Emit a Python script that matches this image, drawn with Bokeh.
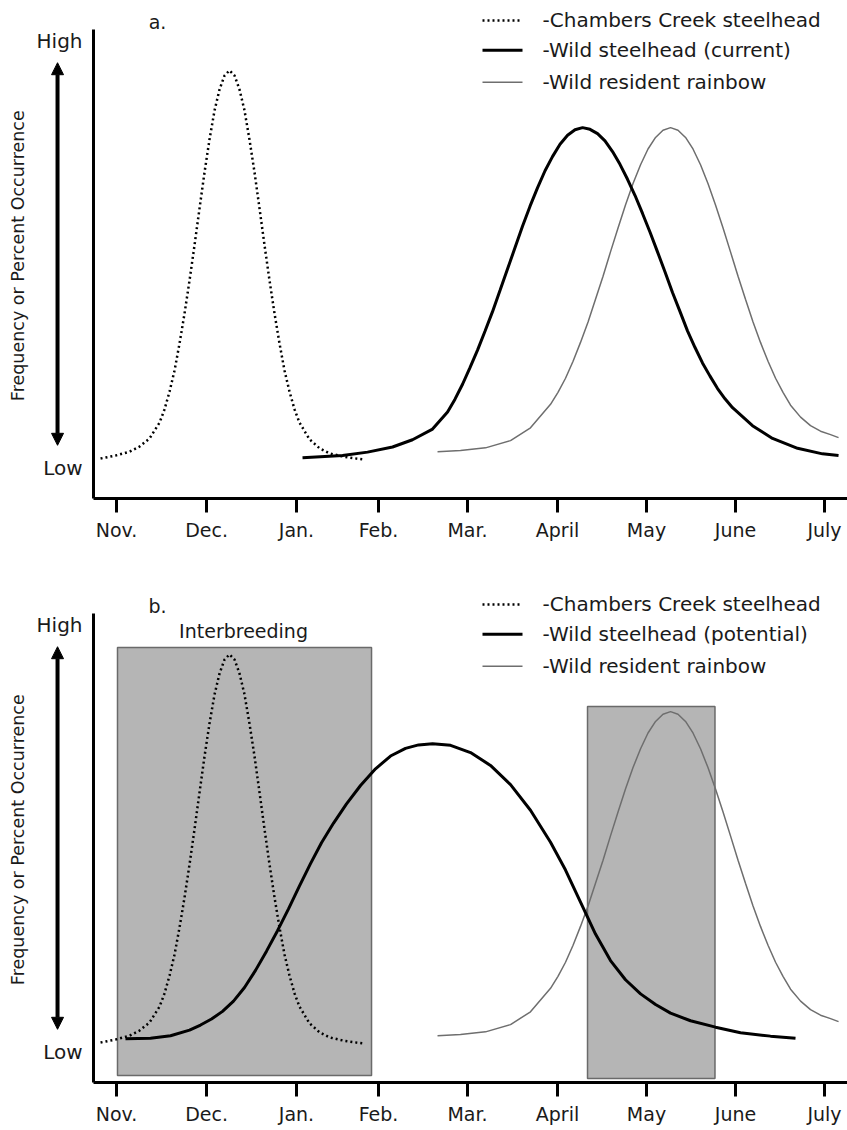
import math
from bokeh.plotting import figure
from bokeh.models import Range1d, FixedTicker, Label, Arrow, NormalHead
from bokeh.layouts import column
from bokeh.embed import file_html
from bokeh.resources import INLINE

# ---- data -------------------------------------------------------------
months = ["Nov.", "Dec.", "Jan.", "Feb.", "Mar.", "April", "May", "June", "July"]
month_pos = [0.0, 1.015, 2.029, 2.954, 3.957, 4.972, 5.975, 6.979, 7.982]

level_pos = [0.0, 1.0]
level_names = ["Low", "High"]

# Chambers Creek steelhead (same in both panels)
chambers_x = [-0.180, -0.011, 0.147, 0.259, 0.372, 0.485, 0.541, 0.598, 0.654, 0.710,
              0.767, 0.823, 0.879, 0.936, 0.992, 1.048, 1.105, 1.161, 1.218, 1.274,
              1.330, 1.387, 1.443, 1.499, 1.556, 1.612, 1.669, 1.725, 1.781, 1.838,
              1.894, 1.950, 2.007, 2.063, 2.176, 2.289, 2.401, 2.570, 2.773]
chambers_y = [0.021, 0.028, 0.037, 0.049, 0.068, 0.105, 0.136, 0.178, 0.227, 0.290,
              0.361, 0.438, 0.520, 0.607, 0.691, 0.768, 0.836, 0.885, 0.918, 0.930,
              0.918, 0.885, 0.836, 0.768, 0.691, 0.607, 0.520, 0.438, 0.361, 0.290,
              0.227, 0.178, 0.136, 0.105, 0.066, 0.045, 0.033, 0.025, 0.019]

# Wild steelhead (current) - panel a
wild_cur_x = [2.097, 2.548, 2.830, 3.112, 3.337, 3.563, 3.732, 3.816, 3.901, 3.985,
              4.070, 4.154, 4.239, 4.324, 4.408, 4.493, 4.577, 4.662, 4.746, 4.831,
              4.915, 5.000, 5.085, 5.169, 5.254, 5.338, 5.423, 5.507, 5.592, 5.676,
              5.761, 5.846, 5.930, 6.015, 6.099, 6.184, 6.268, 6.353, 6.437, 6.522,
              6.606, 6.691, 6.776, 6.860, 6.945, 7.170, 7.396, 7.678, 7.959, 8.140]
wild_cur_y = [0.023, 0.028, 0.036, 0.048, 0.065, 0.090, 0.130, 0.160, 0.195, 0.234,
              0.275, 0.319, 0.365, 0.415, 0.465, 0.515, 0.565, 0.612, 0.655, 0.695,
              0.728, 0.757, 0.778, 0.791, 0.796, 0.792, 0.782, 0.765, 0.740, 0.710,
              0.675, 0.637, 0.595, 0.551, 0.505, 0.458, 0.410, 0.365, 0.320, 0.281,
              0.245, 0.214, 0.185, 0.161, 0.140, 0.098, 0.068, 0.045, 0.032, 0.028]

# Wild resident rainbow (same in both panels)
rainbow_x = [3.619, 3.878, 4.160, 4.442, 4.667, 4.893, 4.977, 5.062, 5.147, 5.231,
             5.316, 5.400, 5.485, 5.569, 5.654, 5.738, 5.823, 5.908, 5.992, 6.077,
             6.161, 6.246, 6.330, 6.415, 6.499, 6.584, 6.668, 6.753, 6.838, 6.922,
             7.007, 7.091, 7.176, 7.260, 7.345, 7.430, 7.514, 7.599, 7.712, 7.824,
             7.937, 8.050, 8.140]
rainbow_y = [0.037, 0.040, 0.046, 0.063, 0.093, 0.148, 0.176, 0.209, 0.249, 0.293,
             0.341, 0.394, 0.448, 0.505, 0.561, 0.615, 0.665, 0.709, 0.746, 0.773,
             0.790, 0.796, 0.790, 0.773, 0.746, 0.709, 0.665, 0.615, 0.561, 0.505,
             0.448, 0.394, 0.341, 0.293, 0.249, 0.209, 0.176, 0.146, 0.118, 0.098,
             0.085, 0.077, 0.070]

# Wild steelhead (potential) - panel b
wild_pot_x = [0.101, 0.383, 0.609, 0.823, 0.947, 1.071, 1.195, 1.319, 1.443, 1.567,
              1.691, 1.815, 1.939, 2.063, 2.187, 2.311, 2.447, 2.593, 2.751, 2.920,
              3.089, 3.258, 3.405, 3.563, 3.766, 3.991, 4.216, 4.442, 4.667, 4.893,
              5.062, 5.231, 5.400, 5.569, 5.738, 5.908, 6.077, 6.246, 6.471, 6.753,
              7.035, 7.373, 7.655]
wild_pot_y = [0.030, 0.031, 0.037, 0.050, 0.062, 0.076, 0.094, 0.118, 0.150, 0.190,
              0.235, 0.283, 0.334, 0.388, 0.440, 0.489, 0.535, 0.580, 0.623, 0.662,
              0.692, 0.710, 0.718, 0.721, 0.717, 0.700, 0.670, 0.625, 0.565, 0.490,
              0.425, 0.350, 0.275, 0.213, 0.168, 0.135, 0.110, 0.090, 0.072, 0.057,
              0.044, 0.036, 0.031]

# overlap zones (panel b)
zone_left = [0.011, 5.310]
zone_right = [2.875, 6.747]
zone_top = [0.946, 0.808]
zone_bottom = [-0.056, -0.063]

legend_a = ["-Chambers Creek steelhead", "-Wild steelhead (current)", "-Wild resident rainbow"]
legend_b = ["-Chambers Creek steelhead", "-Wild steelhead (potential)", "-Wild resident rainbow"]

# ---- styling ----------------------------------------------------------
FONT = "DejaVu Sans"
TXT = "#1a1a1a"
XL, XR = -1.308, 8.241          # whole figure width
AX_X0, AX_X1 = -0.259, 8.241    # extent of the x axis line
AX_Y0, AX_Y1 = -0.0726, 1.0258  # extent of the y axis line

DOT = dict(line_color="black", line_width=2.5, line_dash="2 3")
SOLID = dict(line_color="black", line_width=3)
THIN = dict(line_color="#6e6e6e", line_width=1.5)


def make_panel(height, y_top, y_bot, tag, legend_texts, wild_x, wild_y, zones):
    p = figure(width=847, height=height, x_range=Range1d(XL, XR), y_range=Range1d(y_bot, y_top),
               output_backend="svg", toolbar_location=None,
               min_border_left=0, min_border_right=0, min_border_top=0, min_border_bottom=0)
    p.outline_line_color = None
    p.grid.visible = False
    p.background_fill_color = "white"

    xa = p.xaxis[0]
    xa.fixed_location = AX_Y0
    xa.bounds = (AX_X0, AX_X1)
    xa.ticker = FixedTicker(ticks=month_pos)
    xa.major_label_overrides = {k: v for k, v in zip(month_pos, months)}
    xa.major_tick_out = 14
    xa.major_tick_in = 0
    xa.minor_tick_out = 0
    xa.minor_tick_in = 0
    xa.axis_line_width = 3
    xa.major_tick_line_width = 3
    xa.major_label_text_font = FONT
    xa.major_label_text_font_size = "19px"
    xa.major_label_text_color = TXT
    xa.major_label_standoff = 6

    ya = p.yaxis[0]
    ya.fixed_location = AX_X0
    ya.bounds = (AX_Y0, AX_Y1)
    ya.ticker = FixedTicker(ticks=level_pos)
    ya.major_label_overrides = {k: v for k, v in zip(level_pos, level_names)}
    ya.major_tick_out = 0
    ya.major_tick_in = 0
    ya.minor_tick_out = 0
    ya.minor_tick_in = 0
    ya.axis_line_width = 3
    ya.major_label_text_font = FONT
    ya.major_label_text_font_size = "20px"
    ya.major_label_text_color = TXT
    ya.major_label_standoff = 11

    if zones:
        p.quad(left=zone_left, right=zone_right, top=zone_top, bottom=zone_bottom,
               fill_color="#b5b5b5", line_color="#6a6a6a", line_width=1.5)
        p.add_layout(Label(x=1.432, y=0.984, text="Interbreeding", text_align="center",
                           text_baseline="middle", text_font=FONT,
                           text_font_size="19px", text_color=TXT))

    p.line(rainbow_x, rainbow_y, **THIN)
    p.line(wild_x, wild_y, **SOLID)
    p.line(chambers_x, chambers_y, **DOT)

    # panel tag
    p.add_layout(Label(x=0.462, y=1.044, text=tag, text_align="center", text_baseline="middle",
                       text_font=FONT, text_font_size="19px", text_color=TXT))

    # legend (manual)
    rows = [1.047, 0.977, 0.902]
    styles = [DOT, SOLID, THIN]
    for ry, st, txt in zip(rows, styles, legend_texts):
        p.add_layout(Arrow(x_start=4.126, y_start=ry, x_end=4.577, y_end=ry,
                           start=None, end=None, **st))
        p.add_layout(Label(x=4.803, y=ry, text=txt, text_align="left", text_baseline="middle",
                           text_font=FONT, text_font_size="20px", text_color=TXT))

    # double arrow and vertical title
    p.add_layout(Arrow(x_start=-0.665, y_start=0.052, x_end=-0.665, y_end=0.948,
                       line_color="black", line_width=4,
                       start=NormalHead(size=12, fill_color="black", line_color="black", line_width=1),
                       end=NormalHead(size=12, fill_color="black", line_color="black", line_width=1)))
    p.add_layout(Label(x=-1.116, y=0.496, text="Frequency or Percent Occurrence",
                       angle=math.pi / 2, text_align="center", text_baseline="middle",
                       text_font=FONT, text_font_size="17.5px", text_color=TXT))
    return p


pa = make_panel(565, 1.0937, -0.2295, "a.", legend_a, wild_cur_x, wild_cur_y, False)
pb = make_panel(565, 1.1382, -0.1850, "b.", legend_b, wild_pot_x, wild_pot_y, True)

layout = column(pa, pb)
open("out.html", "w").write(file_html(layout, INLINE))
